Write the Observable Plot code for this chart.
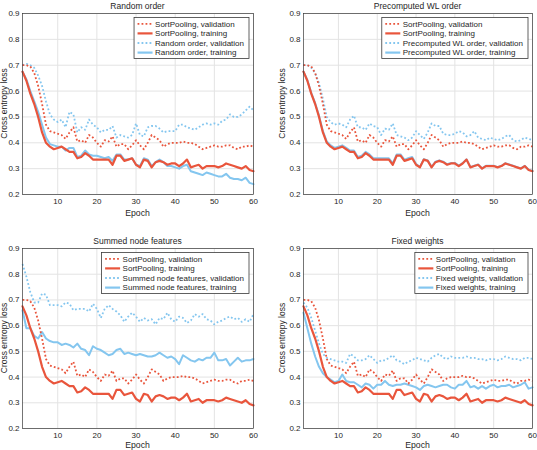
<!DOCTYPE html>
<html><head><meta charset="utf-8">
<script src="https://cdn.jsdelivr.net/npm/d3@7"></script>
<script src="https://cdn.jsdelivr.net/npm/@observablehq/plot@0.6"></script>
<style>
body{margin:0;background:#fff;}
#wrap{position:relative;width:537px;height:450px;overflow:hidden;background:#fff;}
.panel{position:absolute;}
.panel svg{overflow:visible;}
</style></head><body><div id="wrap"></div>
<script>
const epochs = d3.range(1, 61);
const xTicks = [10, 20, 30, 40, 50, 60];
const yTicks = [0.2, 0.3, 0.4, 0.5, 0.6, 0.7, 0.8, 0.9];

const sortPoolingVal = [0.70,0.70,0.695,0.67,0.62,0.55,0.47,0.445,0.44,0.435,0.43,0.415,0.44,0.46,0.405,0.41,0.40,0.43,0.42,0.40,0.385,0.41,0.405,0.425,0.385,0.395,0.395,0.375,0.39,0.41,0.39,0.375,0.40,0.43,0.42,0.41,0.385,0.395,0.40,0.40,0.40,0.405,0.40,0.40,0.395,0.385,0.375,0.38,0.385,0.39,0.385,0.385,0.39,0.39,0.38,0.375,0.385,0.385,0.39,0.385];
const sortPoolingTrain = [0.675,0.64,0.59,0.55,0.50,0.44,0.40,0.385,0.375,0.38,0.385,0.375,0.365,0.365,0.34,0.345,0.36,0.35,0.335,0.335,0.335,0.335,0.335,0.315,0.35,0.35,0.33,0.335,0.34,0.315,0.305,0.335,0.33,0.305,0.325,0.33,0.325,0.315,0.32,0.32,0.31,0.32,0.335,0.305,0.31,0.315,0.30,0.31,0.31,0.31,0.305,0.31,0.32,0.315,0.31,0.305,0.30,0.31,0.295,0.29];

const randomVal = [0.70,0.705,0.70,0.69,0.66,0.62,0.56,0.51,0.49,0.48,0.49,0.46,0.52,0.51,0.44,0.46,0.45,0.49,0.47,0.46,0.44,0.45,0.45,0.465,0.42,0.43,0.425,0.42,0.43,0.475,0.43,0.425,0.46,0.465,0.465,0.455,0.44,0.445,0.445,0.445,0.47,0.47,0.46,0.455,0.45,0.46,0.47,0.475,0.47,0.475,0.47,0.485,0.49,0.51,0.50,0.50,0.51,0.525,0.54,0.525];
const randomTrain = [0.675,0.645,0.60,0.56,0.52,0.47,0.42,0.395,0.39,0.385,0.385,0.37,0.38,0.38,0.345,0.35,0.37,0.355,0.35,0.35,0.345,0.34,0.345,0.33,0.355,0.355,0.335,0.335,0.34,0.315,0.31,0.34,0.335,0.31,0.325,0.335,0.325,0.31,0.31,0.305,0.30,0.31,0.315,0.29,0.285,0.28,0.275,0.285,0.28,0.275,0.27,0.27,0.28,0.265,0.26,0.26,0.255,0.265,0.245,0.24];

const wlVal = [0.70,0.70,0.69,0.67,0.63,0.57,0.50,0.48,0.47,0.475,0.47,0.46,0.49,0.505,0.46,0.46,0.45,0.475,0.465,0.46,0.43,0.455,0.45,0.475,0.43,0.425,0.42,0.41,0.42,0.445,0.43,0.415,0.44,0.475,0.465,0.465,0.435,0.43,0.43,0.435,0.445,0.44,0.425,0.43,0.445,0.42,0.415,0.41,0.42,0.415,0.41,0.415,0.425,0.43,0.41,0.405,0.41,0.42,0.415,0.41];
const wlTrain = [0.675,0.642,0.593,0.553,0.505,0.445,0.405,0.39,0.38,0.385,0.39,0.38,0.37,0.37,0.345,0.35,0.365,0.355,0.34,0.34,0.34,0.34,0.34,0.32,0.355,0.355,0.335,0.34,0.345,0.318,0.307,0.337,0.332,0.307,0.327,0.332,0.327,0.317,0.322,0.322,0.312,0.321,0.336,0.306,0.311,0.316,0.301,0.311,0.311,0.311,0.306,0.311,0.321,0.316,0.311,0.306,0.301,0.311,0.296,0.291];

const summedVal = [0.84,0.79,0.73,0.69,0.69,0.725,0.72,0.68,0.68,0.68,0.675,0.69,0.685,0.66,0.665,0.665,0.665,0.655,0.685,0.665,0.63,0.665,0.68,0.665,0.655,0.64,0.615,0.635,0.65,0.635,0.615,0.63,0.62,0.625,0.605,0.63,0.625,0.65,0.625,0.615,0.635,0.63,0.61,0.62,0.645,0.635,0.645,0.625,0.62,0.605,0.615,0.62,0.63,0.635,0.625,0.63,0.615,0.625,0.615,0.645];
const summedTrain = [0.66,0.59,0.59,0.56,0.55,0.575,0.55,0.54,0.535,0.535,0.525,0.53,0.525,0.515,0.53,0.51,0.505,0.485,0.52,0.51,0.505,0.495,0.485,0.49,0.505,0.51,0.49,0.495,0.49,0.485,0.49,0.485,0.48,0.48,0.485,0.495,0.485,0.475,0.48,0.47,0.45,0.485,0.475,0.465,0.46,0.47,0.465,0.475,0.475,0.495,0.465,0.465,0.47,0.445,0.46,0.475,0.46,0.465,0.465,0.47];

const fixedVal = [0.69,0.67,0.63,0.58,0.53,0.49,0.475,0.47,0.465,0.46,0.46,0.455,0.49,0.48,0.465,0.465,0.47,0.485,0.47,0.455,0.465,0.465,0.475,0.485,0.465,0.46,0.45,0.46,0.465,0.475,0.47,0.465,0.46,0.475,0.485,0.49,0.475,0.47,0.48,0.475,0.475,0.475,0.48,0.475,0.475,0.47,0.47,0.465,0.47,0.47,0.465,0.47,0.48,0.475,0.47,0.47,0.465,0.475,0.475,0.47];
const fixedTrain = [0.65,0.59,0.53,0.48,0.44,0.415,0.40,0.39,0.38,0.385,0.41,0.385,0.38,0.38,0.37,0.36,0.375,0.37,0.355,0.37,0.37,0.385,0.37,0.365,0.37,0.37,0.375,0.37,0.365,0.36,0.35,0.365,0.37,0.365,0.36,0.365,0.37,0.37,0.36,0.355,0.37,0.37,0.385,0.36,0.365,0.355,0.365,0.355,0.365,0.37,0.36,0.365,0.365,0.37,0.36,0.365,0.37,0.38,0.355,0.36];

const titles = ["Random order", "Precomputed WL order", "Summed node features", "Fixed weights"];
const otherVals = [randomVal, wlVal, summedVal, fixedVal];
const otherTrains = [randomTrain, wlTrain, summedTrain, fixedTrain];

const RED = "#e9553c";
const BLUE = "#84c6ef";
const TXT = "#262626";
const FONT = '"Liberation Sans", Arial, Helvetica, sans-serif';
const DOT = "1.8,2.2";

const layout = [
  {left: 0,   top: 0,   w: 268, ml: 22, mr: 15, mt: 13, mb: 31},
  {left: 268, top: 0,   w: 269, ml: 35, mr: 5,  mt: 13, mb: 31},
  {left: 0,   top: 225, w: 268, ml: 22, mr: 15, mt: 23, mb: 22},
  {left: 268, top: 225, w: 269, ml: 35, mr: 5,  mt: 23, mb: 22}
];

const wrap = document.getElementById("wrap");

layout.forEach((L, i) => {
  const rows = epochs.map((e, k) => ({
    epoch: e,
    spVal: sortPoolingVal[k],
    spTrain: sortPoolingTrain[k],
    oVal: otherVals[i][k],
    oTrain: otherTrains[i][k]
  }));
  const H = 225;
  const chart = Plot.plot({
    width: L.w, height: H,
    marginLeft: L.ml, marginRight: L.mr, marginTop: L.mt, marginBottom: L.mb,
    x: {domain: [1, 60]},
    y: {domain: [0.2, 0.9]},
    style: {fontFamily: FONT, fontSize: "8px", color: TXT, background: "white", overflow: "visible"},
    marks: [
      Plot.gridX(xTicks, {stroke: "#e3e3e3", strokeOpacity: 1}),
      Plot.gridY(yTicks, {stroke: "#e3e3e3", strokeOpacity: 1}),
      Plot.axisX(xTicks, {tickSize: 0, tickPadding: 4, label: null, tickFormat: d => String(d), fill: TXT}),
      Plot.axisY(yTicks, {tickSize: 0, tickPadding: 3, label: null, tickFormat: d3.format(".1f"), fill: TXT}),
      Plot.line(rows, {x: "epoch", y: "oVal", stroke: BLUE, strokeWidth: 1.8, strokeDasharray: DOT, strokeLinecap: "butt"}),
      Plot.line(rows, {x: "epoch", y: "oTrain", stroke: BLUE, strokeWidth: 2}),
      Plot.line(rows, {x: "epoch", y: "spVal", stroke: RED, strokeWidth: 1.8, strokeDasharray: DOT, strokeLinecap: "butt"}),
      Plot.line(rows, {x: "epoch", y: "spTrain", stroke: RED, strokeWidth: 2.2}),
      Plot.frame({stroke: "#3a3a3a", strokeWidth: 0.7})
    ]
  });
  const div = document.createElement("div");
  div.className = "panel";
  div.style.left = L.left + "px";
  div.style.top = L.top + "px";
  div.appendChild(chart);
  wrap.appendChild(div);

  const svg = d3.select(chart);
  const x0 = L.ml, x1 = L.w - L.mr, y0 = L.mt, y1 = H - L.mb;
  const cx = (x0 + x1) / 2, cy = (y0 + y1) / 2;
  // title
  svg.append("text").attr("x", cx).attr("y", y0 - 7).attr("dy", "0.35em")
    .attr("text-anchor", "middle").attr("font-size", 8.5).attr("fill", TXT)
    .attr("font-family", FONT).text(titles[i]);
  // x label
  svg.append("text").attr("x", cx).attr("y", Math.min(y1 + 19, H - 5)).attr("dy", "0.35em")
    .attr("text-anchor", "middle").attr("font-size", 8.7).attr("fill", TXT)
    .attr("font-family", FONT).text("Epoch");
  // y label
  svg.append("text").attr("transform", `translate(${Math.max(x0 - 21, 4)},${cy}) rotate(-90)`)
    .attr("dy", "0.35em").attr("text-anchor", "middle").attr("font-size", 8.5)
    .attr("fill", TXT).attr("font-family", FONT).text("Cross entropy loss");

  // legend
  const entries = [
    {label: "SortPooling, validation", color: RED, dash: DOT},
    {label: "SortPooling, training", color: RED, dash: null},
    {label: titles[i] + ", validation", color: BLUE, dash: DOT},
    {label: titles[i] + ", training", color: BLUE, dash: null}
  ];
  const g = svg.append("g").attr("text-anchor", "start");
  const rect = g.append("rect").attr("fill", "white").attr("stroke", "#3a3a3a").attr("stroke-width", 0.8);
  const texts = entries.map((e, k) => g.append("text").attr("font-size", 8).attr("font-family", FONT)
    .attr("text-anchor", "start").attr("fill", TXT).attr("dy", "0.35em").text(e.label));
  const maxW = d3.max(texts, t => t.node().getComputedTextLength());
  const lw = 21 + maxW + 5;
  const lx = x1 - 4 - lw;
  const ly = y0 + 4.5;
  rect.attr("x", lx).attr("y", ly).attr("width", lw).attr("height", 41);
  entries.forEach((e, k) => {
    const yy = ly + 6.3 + k * 9.6;
    const ln = g.append("line").attr("x1", lx + 3.5).attr("x2", lx + 18.5).attr("y1", yy).attr("y2", yy)
      .attr("stroke", e.color).attr("stroke-width", e.dash ? 1.8 : 2.2);
    if (e.dash) ln.attr("stroke-dasharray", e.dash);
    texts[k].attr("x", lx + 21).attr("y", yy);
    texts[k].raise();
  });
});
</script>
</body></html>
